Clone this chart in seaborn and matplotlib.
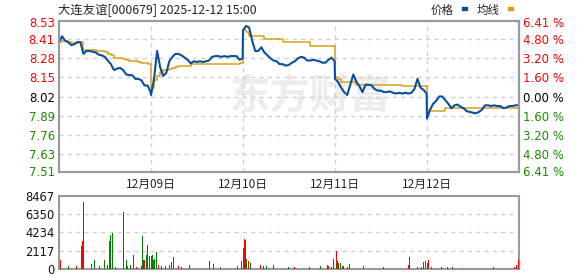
import matplotlib
matplotlib.use("Agg")
import matplotlib.pyplot as plt
import seaborn as sns
import pandas as pd
from matplotlib.patches import Rectangle

# ---------------- data ----------------
title = "大连友谊[000679] 2025-12-12 15:00"
day_labels = ["12月09日", "12月10日", "12月11日", "12月12日"]
prev_close = 8.02
price_ticks = [8.53, 8.41, 8.28, 8.15, 8.02, 7.89, 7.76, 7.63, 7.51]
pct_labels = ["6.41%", "4.80%", "3.20%", "1.60%", "0.00%", "1.60%", "3.20%", "4.80%", "6.41%"]
vol_ticks = [0, 2117, 4234, 6350, 8467]
minutes_per_day = 241
sample_step = 8  # minutes between samples (31 samples per day)

price_day1 = [8.39, 8.43, 8.40, 8.39, 8.37, 8.375, 8.39, 8.39, 8.31, 8.33, 8.33,
              8.325, 8.32, 8.305, 8.30, 8.29, 8.265, 8.24, 8.20, 8.21, 8.215,
              8.20, 8.17, 8.165, 8.165, 8.14, 8.14, 8.13, 8.095, 8.095, 8.05]
price_day2 = [8.03, 8.14, 8.33, 8.22, 8.16, 8.18, 8.26, 8.29, 8.31, 8.31, 8.30,
              8.285, 8.27, 8.245, 8.26, 8.255, 8.26, 8.255, 8.26, 8.265, 8.29,
              8.295, 8.295, 8.29, 8.295, 8.29, 8.295, 8.295, 8.295, 8.27, 8.28]
price_day3 = [8.47, 8.50, 8.49, 8.40, 8.33, 8.33, 8.355, 8.32, 8.30, 8.28, 8.265,
              8.26, 8.24, 8.24, 8.23, 8.235, 8.25, 8.26, 8.28, 8.29, 8.285,
              8.265, 8.265, 8.27, 8.265, 8.26, 8.25, 8.25, 8.27, 8.285, 8.26]
price_day4 = [8.14, 8.12, 8.08, 8.05, 8.03, 8.10, 8.17, 8.12, 8.09, 8.05, 8.10,
              8.10, 8.095, 8.07, 8.06, 8.06, 8.05, 8.05, 8.055, 8.045, 8.04,
              8.045, 8.04, 8.045, 8.04, 8.045, 8.07, 8.14, 8.08, 8.065, 8.04]
price_day5 = [7.87, 7.93, 7.97, 7.99, 8.02, 8.02, 7.995, 7.97, 7.94, 7.96, 7.965,
              7.95, 7.94, 7.92, 7.915, 7.91, 7.905, 7.915, 7.93, 7.96, 7.96,
              7.955, 7.96, 7.955, 7.955, 7.94, 7.945, 7.955, 7.955, 7.96, 7.96]

avg_day1 = [8.39, 8.40, 8.395, 8.39, 8.385, 8.385, 8.39, 8.39, 8.34, 8.34, 8.34,
            8.335, 8.33, 8.33, 8.33, 8.32, 8.31, 8.30, 8.285, 8.285, 8.28,
            8.275, 8.27, 8.26, 8.26, 8.26, 8.255, 8.25, 8.245, 8.24, 8.23]
avg_day2 = [8.08, 8.13, 8.16, 8.19, 8.20, 8.20, 8.205, 8.215, 8.22, 8.225, 8.23,
            8.23, 8.23, 8.24, 8.24, 8.24, 8.24, 8.24, 8.24, 8.24, 8.24,
            8.24, 8.24, 8.24, 8.24, 8.24, 8.24, 8.24, 8.24, 8.245, 8.25]
avg_day3 = [8.47, 8.46, 8.435, 8.435, 8.435, 8.435, 8.435, 8.41, 8.41, 8.41, 8.41,
            8.41, 8.41, 8.39, 8.39, 8.39, 8.39, 8.39, 8.39, 8.39, 8.39,
            8.39, 8.365, 8.365, 8.365, 8.365, 8.365, 8.365, 8.365, 8.365, 8.365]
avg_day4 = [8.15, 8.14, 8.12, 8.12, 8.12, 8.12, 8.12, 8.10, 8.10, 8.10, 8.10,
            8.10, 8.10, 8.095, 8.095, 8.095, 8.095, 8.095, 8.095, 8.095, 8.095,
            8.095, 8.09, 8.09, 8.09, 8.09, 8.09, 8.09, 8.09, 8.09, 8.09]
avg_day5 = [7.93, 7.92, 7.92, 7.92, 7.92, 7.92, 7.94, 7.94, 7.94, 7.94, 7.94,
            7.94, 7.94, 7.94, 7.94, 7.94, 7.94, 7.94, 7.94, 7.94, 7.94,
            7.94, 7.94, 7.94, 7.94, 7.94, 7.94, 7.94, 7.94, 7.94, 7.94]

# volume bars: minute index, volume (lots), direction (u = up/red, d = down/green)
vol_minute = [3, 24, 46, 60, 62, 64, 65, 86, 92, 106, 120, 127, 132, 134, 136, 140,
              148, 168, 176, 180, 188, 195, 204, 217, 219, 222, 224, 230, 232, 236,
              238, 242, 244, 247, 251, 254, 256, 260, 269, 278, 289, 295, 299, 304,
              313, 321, 341, 394, 404, 422, 461, 467, 474, 479, 483, 485, 488, 490,
              492, 496, 502, 516, 527, 535, 544, 561, 579, 601,
              616, 656, 684, 703, 705, 714, 720, 723, 726, 728, 730, 733, 738, 742,
              745, 752, 755, 762, 797, 850, 915, 918, 939, 950, 954, 959, 961, 965,
              967, 976, 1003, 1017, 1031, 1138, 1194, 1199, 1203]
vol_value = [1070, 300, 300, 2610, 3190, 7810, 1770, 530, 1000, 300, 1070, 500, 3190,
             3960, 2010, 4150, 200, 6650, 1000, 300, 500, 1650, 200, 400, 3770, 1100,
             1100, 1650, 2800, 1100, 1460, 1460, 1650, 1070, 1190, 5890, 2000, 500,
             400, 300, 500, 760, 1430, 400, 400, 200, 500, 900, 600, 200, 250, 300,
             1430, 900, 2460, 3460, 3390, 1800, 1190, 900, 700, 900, 500, 400, 300,
             500, 150, 200,
             200, 200, 300, 500, 400, 200, 1130, 2610, 1430, 2060, 900, 700, 700,
             400, 400, 1430, 200, 600, 400, 250, 500, 1370, 200, 250, 770, 530, 900,
             700, 1000, 200, 200, 200, 200, 200, 250, 500, 1000]
vol_dir = ["u", "d", "u", "d", "u", "d", "u", "d", "d", "d", "d", "d", "d", "d", "d", "d",
           "u", "d", "d", "d", "d", "d", "u", "d", "d", "d", "u", "d", "d", "u",
           "d", "u", "d", "u", "d", "u", "d", "u", "d", "u", "u", "u", "u", "d",
           "u", "d", "d", "u", "u", "d", "u", "d", "d", "u", "u", "u", "u", "d",
           "d", "u", "d", "d", "u", "u", "d", "u", "d", "d",
           "u", "u", "d", "u", "u", "u", "u", "d", "d", "u", "u", "d", "d", "u",
           "u", "d", "u", "u", "u", "d", "u", "d", "d", "u", "d", "u", "d", "u",
           "u", "u", "d", "u", "u", "u", "u", "u", "u"]

# ---------------- build frames ----------------
price_days = [price_day1, price_day2, price_day3, price_day4, price_day5]
avg_days = [avg_day1, avg_day2, avg_day3, avg_day4, avg_day5]
rows = []
for d, (pd_, ad_) in enumerate(zip(price_days, avg_days)):
    for i, (p, a) in enumerate(zip(pd_, ad_)):
        rows.append({"t": d * minutes_per_day + i * sample_step, "price": p, "avg": a})
df = pd.DataFrame(rows)
vol_df = pd.DataFrame({"t": vol_minute, "vol": vol_value, "dir": vol_dir})

n_days = len(price_days)
x_max = n_days * minutes_per_day

# ---------------- styling ----------------
sns.set_theme(style="white")
plt.rcParams["font.family"] = ["DejaVu Sans", "Noto Sans CJK SC"]
cjk = ["Noto Sans CJK SC", "DejaVu Sans"]

fig = plt.figure(figsize=(5.78, 2.76), dpi=100)
W, H = 578, 276
ax = fig.add_axes([59 / W, 1 - 172 / H, 460 / W, 151 / H])
ax2 = fig.add_axes([59 / W, 1 - 269 / H, 460 / W, 73 / H])

blue = "#0a4f9e"
gold = "#d9a01a"
grid_c = "#d0d0d0"
spine_c = "#9a9a9a"
up_c = "#ff0000"
dn_c = "#008000"

# watermark
ax.text(0.545, 0.5, "东方财富", transform=ax.transAxes, fontsize=29, fontweight="bold",
        color="#ececec", ha="center", va="center", family=cjk, zorder=0)

sns.lineplot(data=df, x="t", y="avg", ax=ax, color=gold, linewidth=1.1,
             drawstyle="steps-post", estimator=None, zorder=3)
sns.lineplot(data=df, x="t", y="price", ax=ax, color=blue, linewidth=1.5,
             estimator=None, zorder=4)

ax.set_xlim(0, x_max)
ax.set_ylim(prev_close * (1 - 0.0641), prev_close * (1 + 0.0641))
ax.set_yticks(price_ticks)
ax.set_yticklabels([f"{v:.2f}" for v in price_ticks])
ax.set_xticks([minutes_per_day * k for k in range(1, n_days)])
ax.set_xticklabels(day_labels, family=cjk, fontsize=7.5)
ax.set_xlabel("")
ax.set_ylabel("")
ax.tick_params(axis="both", length=0, labelsize=8.5, pad=3)
ax.tick_params(axis="x", pad=4)
for lbl, v in zip(ax.get_yticklabels(), price_ticks):
    lbl.set_color(up_c if v > prev_close else ("black" if v == prev_close else "#1a8a00"))

# right percentage labels
axr = ax.twinx()
axr.set_ylim(ax.get_ylim())
axr.set_yticks(price_ticks)
axr.set_yticklabels([s.replace("%", " %") for s in pct_labels])
axr.tick_params(axis="y", length=0, labelsize=8.5, pad=3)
for lbl, v in zip(axr.get_yticklabels(), price_ticks):
    lbl.set_color(up_c if v > prev_close else ("black" if v == prev_close else "#1a8a00"))

# grid
for v in price_ticks[1:-1]:
    ax.axhline(v, color=grid_c, linestyle=(0, (3, 3)), linewidth=1, zorder=1)
for k in range(1, n_days):
    ax.axvline(minutes_per_day * k, color=grid_c, linestyle=(0, (3, 3)), linewidth=1, zorder=1)

for a in (ax, axr, ax2):
    for s in a.spines.values():
        s.set_color(spine_c)
        s.set_linewidth(1.5)

# volume
ax2.bar(vol_df["t"], vol_df["vol"], width=2.2,
        color=[up_c if d == "u" else dn_c for d in vol_df["dir"]], linewidth=0, zorder=3)
ax2.set_xlim(0, x_max)
ax2.set_ylim(vol_ticks[0], vol_ticks[-1])
ax2.set_yticks(vol_ticks)
ax2.set_yticklabels([str(v) for v in vol_ticks])
ax2.set_xticks([])
ax2.tick_params(axis="y", length=0, labelsize=8.3, pad=3, labelcolor="#111111")
for v in vol_ticks[1:-1]:
    ax2.axhline(v, color=grid_c, linestyle=(0, (3, 3)), linewidth=1, zorder=1)

# title and legend
fig.text(58 / W, 1 - 10 / H, title, family=cjk, fontsize=8.9, ha="left", va="center")
fig.text(431 / W, 1 - 10 / H, "价格", family=cjk, fontsize=8.3, ha="left", va="center")
fig.patches.append(Rectangle((462 / W, 1 - 10 / H), 5 / W, 3 / H, transform=fig.transFigure,
                             color=blue, figure=fig))
fig.text(477 / W, 1 - 10 / H, "均线", family=cjk, fontsize=8.3, ha="left", va="center")
fig.patches.append(Rectangle((508 / W, 1 - 10 / H), 5 / W, 3 / H, transform=fig.transFigure,
                             color=gold, figure=fig))

fig.savefig("out.png", dpi=100)
